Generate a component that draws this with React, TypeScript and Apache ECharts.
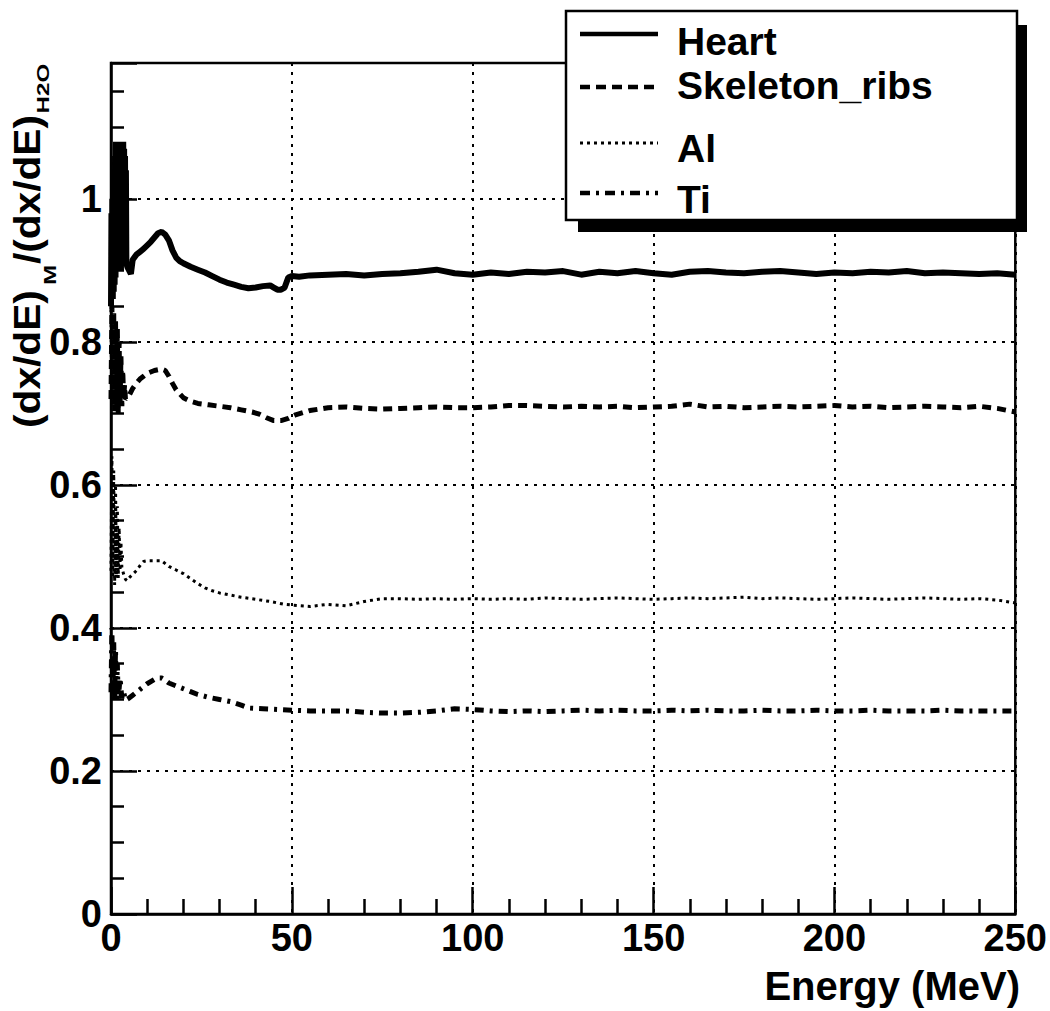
import React, { useEffect, useRef } from 'react';
import * as echarts from 'echarts';

const FONT = '"Liberation Sans", Arial, Helvetica, sans-serif';

const seriesNames = ['Heart', 'Skeleton_ribs', 'Al', 'Ti'];
const yTickValues = [0, 0.2, 0.4, 0.6, 0.8, 1];

// Energies (MeV) shared by all curves above 50 MeV
const tailEnergy = [
  55, 60, 65, 70, 75, 80, 85, 90, 95, 100,
  105, 110, 115, 120, 125, 130, 135, 140, 145, 150,
  155, 160, 165, 170, 175, 180, 185, 190, 195, 200,
  205, 210, 215, 220, 225, 230, 235, 240, 245, 250,
];

// Heart
const heartEarlyEnergy = [
  0, 0.125, 0.25, 0.375, 0.5, 0.625, 0.75, 0.875, 1, 1.125,
  1.25, 1.375, 1.5, 1.625, 1.75, 1.875, 2, 2.125, 2.25, 2.375,
  2.5, 2.625, 2.75, 2.875, 3, 3.125, 3.25, 3.375, 3.5, 3.625,
  3.75, 3.875, 4, 4.125, 4.25, 4.5, 5, 5.5,
  6, 7, 8, 9, 10, 11, 12, 13, 14, 15, 16, 17, 18, 19, 20, 22, 24, 26, 28, 30, 32, 34, 36, 38, 40, 42, 44,
  45, 46, 47, 48, 49, 50, 52,
];
const heartEarlyRatio = [
  0.85, 0.98, 0.86, 1.0, 0.86, 1.02, 0.87, 1.04, 0.88, 1.06,
  0.89, 1.08, 0.9, 1.08, 0.9, 1.08, 0.9, 1.08, 0.9, 1.08,
  0.9, 1.08, 0.9, 1.08, 0.91, 1.08, 0.91, 1.08, 0.91, 1.07,
  0.91, 1.06, 0.92, 1.04, 0.91, 0.905, 0.9, 0.895,
  0.915, 0.922, 0.926, 0.93, 0.935, 0.94, 0.946, 0.952, 0.954, 0.95, 0.942, 0.928, 0.918, 0.913, 0.91, 0.905, 0.901, 0.897, 0.892, 0.887, 0.883, 0.88, 0.877, 0.875, 0.876, 0.878, 0.879,
  0.876, 0.873, 0.873, 0.876, 0.89, 0.892, 0.891,
];
const heartTailRatio = [
  0.893, 0.894, 0.895, 0.893, 0.895, 0.896, 0.898, 0.901, 0.896, 0.894,
  0.897, 0.895, 0.898, 0.897, 0.899, 0.894, 0.898, 0.896, 0.899, 0.896,
  0.894, 0.898, 0.899, 0.897, 0.896, 0.898, 0.899, 0.897, 0.895, 0.897,
  0.896, 0.898, 0.897, 0.899, 0.896, 0.897, 0.896, 0.895, 0.896, 0.894,
];

// Skeleton_ribs
const skelEarlyEnergy = [
  0, 0.25, 0.5, 0.75, 1, 1.25, 1.5, 1.75, 2, 2.25,
  2.5, 2.75, 3, 3.25, 3.5, 3.75, 4, 5, 6, 7,
  8, 9, 10, 12, 14, 15, 16, 17, 18, 20,
  22, 24, 27, 30, 33, 36, 39, 41, 43, 45,
  47, 49, 51,
];
const skelEarlyRatio = [
  0.72, 0.85, 0.71, 0.84, 0.7, 0.83, 0.71, 0.82, 0.7, 0.8,
  0.71, 0.78, 0.71, 0.76, 0.72, 0.74, 0.72, 0.725, 0.735, 0.742,
  0.748, 0.752, 0.756, 0.76, 0.762, 0.76, 0.752, 0.742, 0.733, 0.722,
  0.717, 0.714, 0.712, 0.71, 0.708, 0.705, 0.702, 0.699, 0.694, 0.69,
  0.69, 0.693, 0.698,
];
const skelTailRatio = [
  0.704, 0.708, 0.709, 0.707, 0.706, 0.707, 0.708, 0.709, 0.708, 0.708,
  0.709, 0.711, 0.711, 0.71, 0.709, 0.71, 0.709, 0.71, 0.708, 0.709,
  0.71, 0.713, 0.709, 0.71, 0.708, 0.709, 0.71, 0.709, 0.71, 0.711,
  0.709, 0.71, 0.708, 0.709, 0.71, 0.709, 0.708, 0.71, 0.707, 0.702,
];

// Al
const alEarlyEnergy = [
  0, 0.25, 0.5, 0.75, 1, 1.25, 1.5, 1.75, 2, 2.25,
  2.5, 2.75, 3, 3.5, 4, 4.5, 5, 6, 7, 8,
  9, 10, 12, 14, 15, 16, 18, 20, 22, 24,
  26, 28, 30, 33, 36, 40, 44, 48, 50,
];
const alEarlyRatio = [
  0.48, 0.64, 0.47, 0.62, 0.46, 0.6, 0.47, 0.57, 0.47, 0.54,
  0.48, 0.52, 0.485, 0.475, 0.468, 0.466, 0.47, 0.475, 0.48, 0.487,
  0.493, 0.494, 0.494, 0.494, 0.49, 0.486, 0.481, 0.476, 0.469, 0.462,
  0.456, 0.452, 0.449, 0.446, 0.443, 0.44, 0.437, 0.433, 0.432,
];
const alTailRatio = [
  0.43, 0.433, 0.431, 0.437, 0.441, 0.441, 0.44, 0.441, 0.44, 0.441,
  0.44, 0.441, 0.44, 0.442, 0.441, 0.44, 0.441, 0.442, 0.441, 0.44,
  0.441, 0.442, 0.441, 0.442, 0.443, 0.441, 0.442, 0.441, 0.44, 0.441,
  0.442, 0.441, 0.44, 0.441, 0.442, 0.441, 0.44, 0.441, 0.439, 0.435,
];

// Ti
const tiEarlyEnergy = [
  0, 0.25, 0.5, 0.75, 1, 1.25, 1.5, 1.75, 2, 2.5,
  3, 3.5, 4, 5, 6, 7, 8, 9, 10, 12,
  13, 14, 15, 16, 18, 20, 22, 24, 27, 30,
  33, 36, 38, 42, 46, 50,
];
const tiEarlyRatio = [
  0.31, 0.4, 0.3, 0.38, 0.3, 0.37, 0.3, 0.35, 0.3, 0.33,
  0.302, 0.31, 0.299, 0.302, 0.306, 0.31, 0.314, 0.318, 0.322, 0.328,
  0.33, 0.33, 0.327, 0.323, 0.319, 0.315, 0.311, 0.307, 0.303, 0.3,
  0.297, 0.292, 0.288, 0.287, 0.286, 0.285,
];
const tiTailRatio = [
  0.284, 0.284, 0.284, 0.282, 0.281, 0.281, 0.282, 0.284, 0.287, 0.286,
  0.284, 0.283, 0.284, 0.283, 0.284, 0.285, 0.284, 0.285, 0.284, 0.284,
  0.285, 0.284, 0.285, 0.284, 0.284, 0.285, 0.284, 0.284, 0.285, 0.284,
  0.284, 0.285, 0.284, 0.284, 0.284, 0.285, 0.284, 0.284, 0.284, 0.284,
];

function pairs(xs: number[], ys: number[]) {
  return xs.map((x, i) => [x, ys[i]]);
}

const seriesData = [
  [...pairs(heartEarlyEnergy, heartEarlyRatio), ...pairs(tailEnergy, heartTailRatio)],
  [...pairs(skelEarlyEnergy, skelEarlyRatio), ...pairs(tailEnergy, skelTailRatio)],
  [...pairs(alEarlyEnergy, alEarlyRatio), ...pairs(tailEnergy, alTailRatio)],
  [...pairs(tiEarlyEnergy, tiEarlyRatio), ...pairs(tailEnergy, tiTailRatio)],
];

const lineStyles: any[] = [
  { width: 6, type: 'solid' },
  { width: 5, type: [9, 6] },
  { width: 3, type: [3, 4] },
  { width: 5, type: [9, 6, 3, 6] },
];

const legendDash: any[] = [
  { lineWidth: 4.5, lineDash: null },
  { lineWidth: 4.5, lineDash: [10, 6] },
  { lineWidth: 3, lineDash: [3, 4] },
  { lineWidth: 4.5, lineDash: [10, 6, 3, 6] },
];

function buildOption() {
  const legendLineY = [34, 87, 143, 193];
  const legendTextY = [41, 85, 148, 199];
  const graphic: any[] = [
    { type: 'rect', z: 20, shape: { x: 578, y: 25, width: 449, height: 207 }, style: { fill: '#000' } },
    {
      type: 'rect', z: 21, shape: { x: 566, y: 11, width: 451, height: 209 },
      style: { fill: '#fff', stroke: '#000', lineWidth: 2.5 },
    },
  ];
  seriesNames.forEach((name, i) => {
    graphic.push({
      type: 'line', z: 22,
      shape: { x1: 580, y1: legendLineY[i], x2: 658, y2: legendLineY[i] },
      style: { stroke: '#000', lineWidth: legendDash[i].lineWidth, lineDash: legendDash[i].lineDash },
    });
    graphic.push({
      type: 'text', z: 22, x: 677, y: legendTextY[i],
      style: {
        text: name, fill: '#000', font: `bold 39px ${FONT}`,
        align: 'left', verticalAlign: 'middle', textAlign: 'left', textVerticalAlign: 'middle',
      },
    });
  });
  // Y-axis title (rotated)
  const mainFont = `bold 37px ${FONT}`;
  const subFont = `bold 22px ${FONT}`;
  const tStyle = (text: string, font: string) => ({
    text, font, fill: '#000', align: 'left', verticalAlign: 'middle', textAlign: 'left', textVerticalAlign: 'middle',
  });
  graphic.push({
    type: 'group', x: 40, y: 428, rotation: Math.PI / 2, scaleX: 1.1, z: 22,
    children: [
      { type: 'text', x: 0, y: -13, style: tStyle('(dx/dE)', mainFont) },
      { type: 'text', x: 130, y: 10, scaleY: 0.75, style: tStyle('M', subFont) },
      { type: 'text', x: 149, y: -13, style: tStyle('/(dx/dE)', mainFont) },
      { type: 'text', x: 286, y: 3, scaleY: 0.75, style: tStyle('H2O', subFont) },
    ],
  });
  // X-axis title
  graphic.push({
    type: 'text', z: 22, x: 1020, y: 986,
    style: {
      text: 'Energy (MeV)', fill: '#000', font: `bold 40px ${FONT}`,
      align: 'right', verticalAlign: 'middle', textAlign: 'right', textVerticalAlign: 'middle',
    },
  });

  const labelStyle = { color: '#000', fontSize: 38, fontWeight: 'bold', fontFamily: FONT };

  return {
    animation: false,
    backgroundColor: '#fff',
    grid: {
      left: 111, right: 32, top: 63, bottom: 97,
      show: true, borderColor: '#000', borderWidth: 2.5, backgroundColor: 'rgba(0,0,0,0)',
    },
    xAxis: {
      type: 'value', min: 0, max: 250, interval: 50,
      axisLine: { show: true, onZero: false, lineStyle: { color: '#000', width: 2.5 } },
      axisTick: { show: true, inside: true, length: 27, lineStyle: { color: '#000', width: 2.5 } },
      minorTick: { show: true, splitNumber: 5, length: 15, lineStyle: { color: '#000', width: 2.5 } },
      splitLine: { show: true, lineStyle: { color: '#000', width: 2, type: [3, 6] } },
      axisLabel: { ...labelStyle, margin: 5 },
    },
    yAxis: {
      type: 'value', min: 0, max: 1.19, interval: 0.2,
      axisLine: { show: true, onZero: false, lineStyle: { color: '#000', width: 2.5 } },
      axisTick: { show: true, inside: true, length: 26, lineStyle: { color: '#000', width: 2.5 } },
      minorTick: { show: true, splitNumber: 4, length: 13, lineStyle: { color: '#000', width: 2.5 } },
      splitLine: { show: true, lineStyle: { color: '#000', width: 2, type: [3, 6] } },
      axisLabel: {
        ...labelStyle, margin: 9,
        formatter: (v: number) => {
          const hit = yTickValues.find((t) => Math.abs(t - v) < 1e-6);
          return hit === undefined ? '' : String(hit);
        },
      },
    },
    graphic,
    series: seriesNames.map((name, i) => ({
      name, type: 'line', data: seriesData[i], symbol: 'none', showSymbol: false, silent: true,
      itemStyle: { color: '#000' },
      lineStyle: { color: '#000', width: lineStyles[i].width, type: lineStyles[i].type, join: 'bevel', cap: 'butt' },
      z: 3,
    })),
  };
}

export default function App() {
  const ref = useRef<HTMLDivElement>(null);
  useEffect(() => {
    document.body.style.margin = '0';
    if (!ref.current) return;
    const chart = echarts.init(ref.current, undefined, { renderer: 'svg' });
    chart.setOption(buildOption() as any);
    return () => chart.dispose();
  }, []);
  return <div ref={ref} style={{ width: 1050, height: 1011, background: '#fff' }} />;
}
